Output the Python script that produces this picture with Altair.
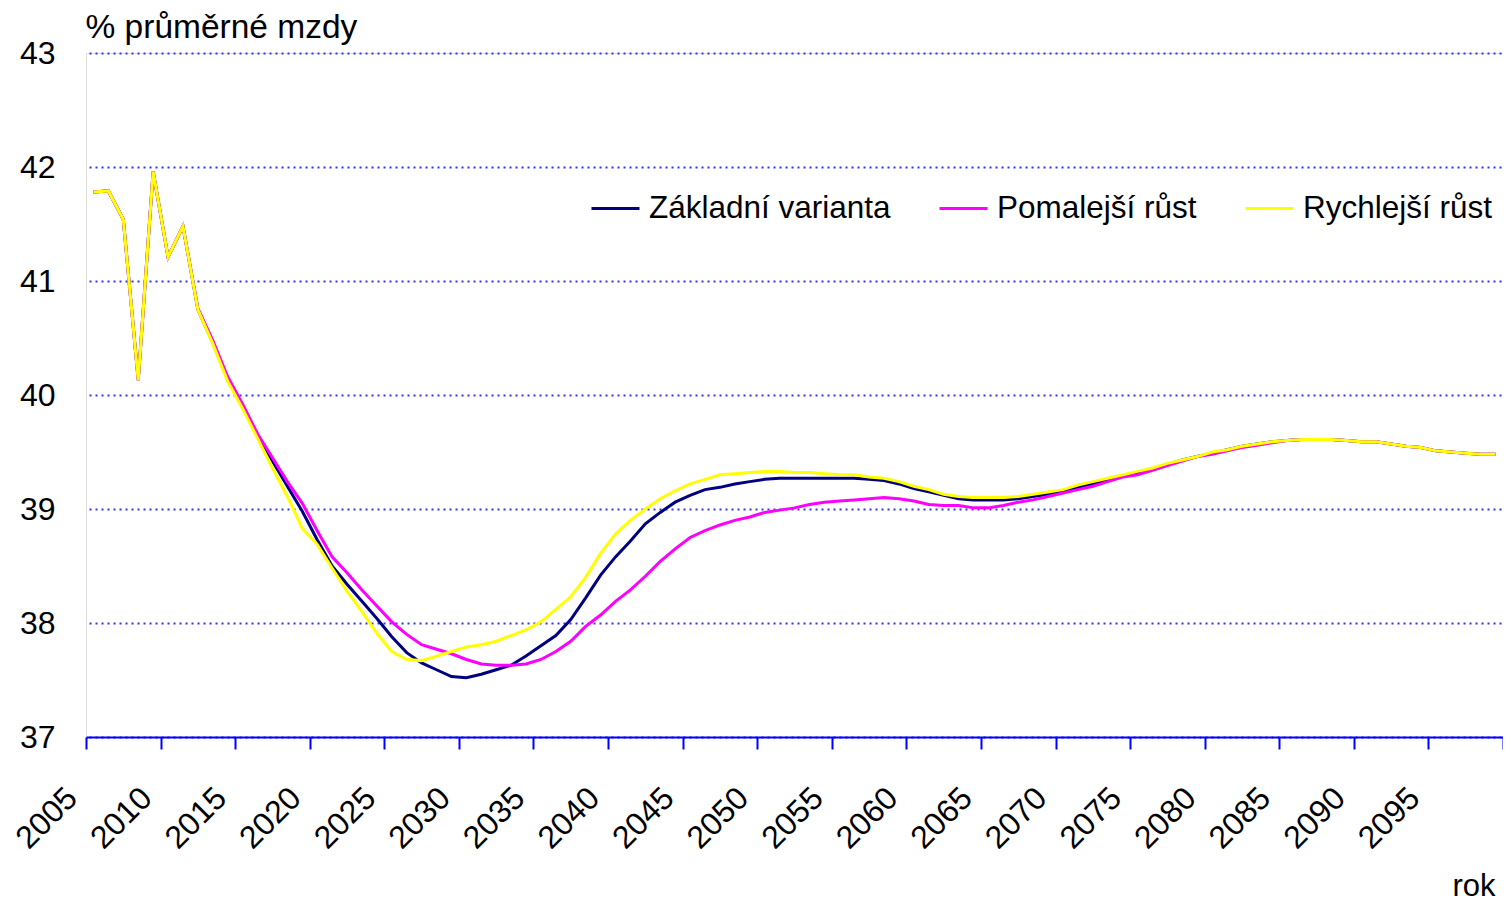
import altair as alt
import pandas as pd

years = list(range(2005, 2100))

zakladni = [
    41.78, 41.79, 41.54, 40.13, 41.96, 41.21, 41.48, 40.75, 40.46, 40.14,
    39.90, 39.65, 39.42, 39.20, 38.98, 38.73, 38.50, 38.34, 38.19, 38.04,
    37.88, 37.74, 37.65, 37.59, 37.53, 37.52, 37.55, 37.59, 37.63, 37.71,
    37.80, 37.89, 38.03, 38.22, 38.42, 38.58, 38.72, 38.87, 38.97, 39.06,
    39.12, 39.17, 39.19, 39.22, 39.24, 39.26, 39.27, 39.27, 39.27, 39.27,
    39.27, 39.27, 39.26, 39.25, 39.22, 39.18, 39.15, 39.12, 39.09, 39.08,
    39.08, 39.08, 39.09, 39.11, 39.13, 39.16, 39.19, 39.22, 39.26, 39.29,
    39.32, 39.35, 39.39, 39.43, 39.46, 39.49, 39.52, 39.55, 39.57, 39.59,
    39.60, 39.61, 39.61, 39.61, 39.60, 39.59, 39.59, 39.57, 39.55, 39.54,
    39.51, 39.50, 39.49, 39.48, 39.48,
]

pomalejsi = [
    41.78, 41.79, 41.54, 40.13, 41.96, 41.21, 41.48, 40.76, 40.48, 40.16,
    39.92, 39.66, 39.45, 39.24, 39.05, 38.81, 38.58, 38.44, 38.29, 38.15,
    38.01, 37.90, 37.81, 37.77, 37.73, 37.68, 37.64, 37.63, 37.63, 37.64,
    37.68, 37.75, 37.84, 37.97, 38.07, 38.19, 38.29, 38.41, 38.54, 38.65,
    38.75, 38.81, 38.86, 38.90, 38.93, 38.97, 38.99, 39.01, 39.04, 39.06,
    39.07, 39.08, 39.09, 39.10, 39.09, 39.07, 39.04, 39.03, 39.03, 39.01,
    39.01, 39.03, 39.06, 39.08, 39.11, 39.14, 39.17, 39.20, 39.24, 39.28,
    39.30, 39.34, 39.38, 39.42, 39.46, 39.48, 39.51, 39.54, 39.56, 39.58,
    39.60, 39.61, 39.61, 39.61, 39.60, 39.59, 39.59, 39.57, 39.55, 39.54,
    39.51, 39.50, 39.49, 39.48, 39.48,
]

rychlejsi = [
    41.78, 41.79, 41.54, 40.13, 41.96, 41.21, 41.48, 40.75, 40.45, 40.12,
    39.88, 39.62, 39.36, 39.11, 38.83, 38.69, 38.48, 38.28, 38.10, 37.91,
    37.75, 37.68, 37.67, 37.71, 37.75, 37.79, 37.81, 37.84, 37.89, 37.94,
    38.01, 38.12, 38.23, 38.40, 38.61, 38.78, 38.90, 39.00, 39.09, 39.16,
    39.22, 39.26, 39.30, 39.31, 39.32, 39.33, 39.33, 39.32, 39.32, 39.31,
    39.30, 39.30, 39.28, 39.27, 39.24, 39.20, 39.17, 39.13, 39.11, 39.10,
    39.10, 39.10, 39.11, 39.13, 39.15, 39.17, 39.21, 39.24, 39.27, 39.30,
    39.33, 39.36, 39.40, 39.43, 39.46, 39.50, 39.52, 39.55, 39.57, 39.59,
    39.60, 39.61, 39.61, 39.61, 39.60, 39.59, 39.59, 39.57, 39.55, 39.54,
    39.51, 39.50, 39.49, 39.48, 39.48,
]

series_names = ["Základní varianta", "Pomalejší růst", "Rychlejší růst"]
series_colors = ["#000080", "#FF00FF", "#FFFF00"]
x_ticks = list(range(2005, 2101, 5))
y_ticks = [37, 38, 39, 40, 41, 42, 43]

rows = []
for name, vals in zip(series_names, [zakladni, pomalejsi, rychlejsi]):
    for yr, v in zip(years, vals):
        rows.append({"rok": yr, "hodnota": v, "varianta": name})
df = pd.DataFrame(rows)

FONT = "Liberation Sans"

chart = (
    alt.Chart(df)
    .transform_calculate(xpos="datum.rok + 0.5")
    .mark_line(strokeWidth=3)
    .encode(
        x=alt.X(
            "xpos:Q",
            scale=alt.Scale(domain=[2005, 2100], nice=False, zero=False),
            axis=alt.Axis(
                values=x_ticks,
                format="d",
                labelExpr="datum.value == 2100 ? '' : datum.label",
                labelAngle=-45,
                labelFont=FONT,
                labelFontSize=32,
                labelColor="black",
                labelPadding=33,
                labelOffset=-25,
                domain=True,
                domainColor="#0000FF",
                domainWidth=2,
                tickColor="#0000FF",
                tickWidth=2,
                tickSize=12,
                grid=False,
                title="rok",
                titleFont=FONT,
                titleFontSize=31,
                titleFontWeight="normal",
                titleColor="black",
                titleX=1409,
                titleY=158,
                titleAlign="right",
                titleBaseline="alphabetic",
            ),
        ),
        y=alt.Y(
            "hodnota:Q",
            scale=alt.Scale(domain=[37, 43], nice=False, zero=False),
            axis=alt.Axis(
                values=y_ticks,
                format="d",
                labelFont=FONT,
                labelFontSize=32,
                labelColor="black",
                labelPadding=31,
                domain=False,
                ticks=False,
                grid=True,
                gridColor="#3333FF",
                gridDash=[2, 4],
                gridDashOffset=-3,
                gridWidth=2,
                title="% průměrné mzdy",
                titleFont=FONT,
                titleFontSize=33.5,
                titleFontWeight="normal",
                titleColor="black",
                titleAngle=0,
                titleX=-1,
                titleY=-16,
                titleAlign="left",
                titleBaseline="alphabetic",
            ),
        ),
        color=alt.Color(
            "varianta:N",
            scale=alt.Scale(domain=series_names, range=series_colors),
            legend=alt.Legend(
                title=None,
                orient="none",
                legendX=504,
                legendY=130,
                direction="horizontal",
                symbolType="stroke",
                symbolSize=2304,
                symbolStrokeWidth=3,
                labelFont=FONT,
                labelFontSize=31.5,
                labelColor="black",
                labelOffset=8,
                columnPadding=42,
                labelLimit=400,
            ),
        ),
    )
    .properties(
        width=1417,
        height=684,
        autosize=alt.AutoSizeParams(type="none"),
        padding={"left": 78, "top": 45, "right": 0, "bottom": 164},
    )
    .configure_view(strokeWidth=0, strokeOpacity=0, stroke="white")
    .configure_axis(domain=False, domainColor="#FFFFFF", domainOpacity=0)
    .configure(background="white")
)

chart.save("out.html", embed_options={"renderer": "svg", "actions": False})
